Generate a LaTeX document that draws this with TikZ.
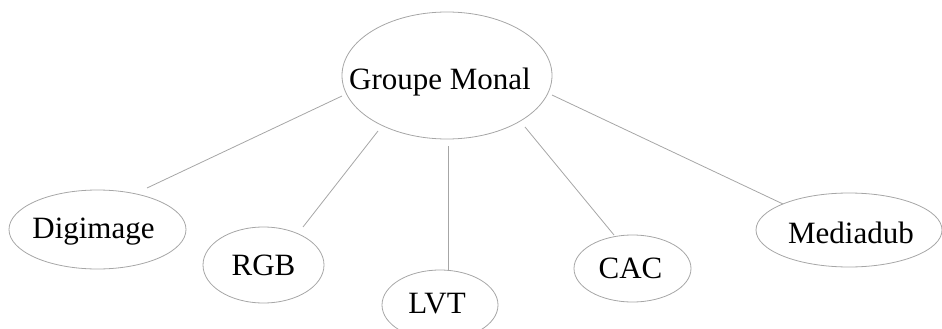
\documentclass[tikz,border=0pt]{standalone}
\usepackage{fontspec}
\setmainfont{Liberation Serif}
\usetikzlibrary{shapes.geometric,calc}
\begin{document}
\begin{tikzpicture}[x=1pt,y=-1pt,
  bubble/.style={ellipse, draw=gray!70, line width=0.8pt, inner sep=0pt},
  link/.style={draw=gray!70, line width=0.8pt},
  txt/.style={font=\fontsize{31}{36}\selectfont, text height=20.5pt, text depth=0pt, inner sep=0pt}]
\useasboundingbox (0,0) rectangle (942,329);
\node[bubble, minimum width=210pt, minimum height=127pt,
  label={[txt,xshift=-7pt,yshift=-4pt]center:Groupe Monal}] (gm) at (447,75.5) {};
\node[bubble, minimum width=177pt, minimum height=79pt,
  label={[txt,xshift=-4pt,yshift=1pt]center:Digimage}] (dg) at (97.5,229.5) {};
\node[bubble, minimum width=121pt, minimum height=76pt,
  label={[txt]center:RGB}] (rgb) at (263.5,265) {};
\node[bubble, minimum width=116pt, minimum height=70pt,
  label={[txt,xshift=-3pt,yshift=2pt]center:LVT}] (lvt) at (440,305) {};
\node[bubble, minimum width=117pt, minimum height=67pt,
  label={[txt,xshift=-2pt]center:CAC}] (cac) at (632.5,268.5) {};
\node[bubble, minimum width=186pt, minimum height=74pt,
  label={[txt,xshift=2pt,yshift=-3pt]center:Mediadub}] (md) at (849,230) {};
\draw[link] ($(dg)+(49.5,-41.5)$) -- ($(gm)+(-105,20.5)$);
\draw[link] ($(rgb)+(39.5,-38)$) -- ($(gm)+(-69,55.5)$);
\draw[link] ($(lvt)+(8,-35)$) -- ($(gm)+(1,70.5)$);
\draw[link] ($(cac)+(-18.5,-33.5)$) -- ($(gm)+(78,51.5)$);
\draw[link] ($(md)+(-66,-26)$) -- ($(gm)+(105,19.5)$);
\end{tikzpicture}
\end{document}
